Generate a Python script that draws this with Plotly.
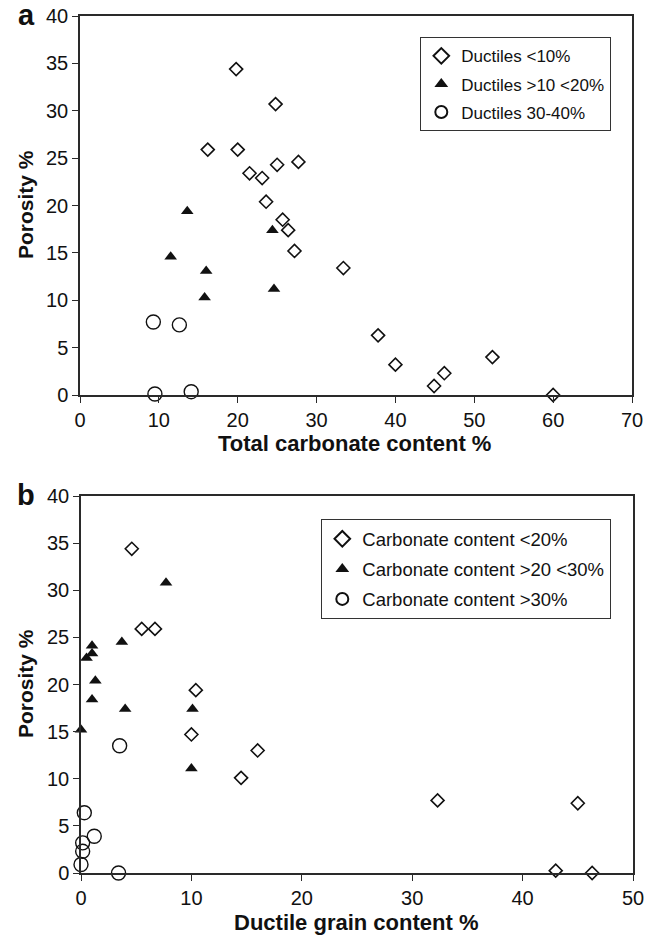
import plotly.graph_objects as go

# Panel a: porosity vs total carbonate content, grouped by ductile grain content
a_duct_lt10_x = [19.8, 24.8, 16.2, 20.0, 21.5, 23.1, 25.0, 27.7, 23.6, 25.7, 26.4,
                 27.2, 33.4, 37.8, 40.0, 44.9, 46.2, 52.3, 60.0]
a_duct_lt10_y = [34.4, 30.7, 25.9, 25.9, 23.4, 22.9, 24.3, 24.6, 20.4, 18.5, 17.4,
                 15.2, 13.4, 6.3, 3.2, 0.95, 2.3, 4.0, 0.0]
a_duct_10_20_x = [13.6, 11.5, 16.0, 15.8, 24.4, 24.6]
a_duct_10_20_y = [19.4, 14.6, 13.1, 10.3, 17.4, 11.2]
a_duct_30_40_x = [9.3, 12.6, 9.5, 14.1]
a_duct_30_40_y = [7.7, 7.4, 0.1, 0.35]

# Panel b: porosity vs ductile grain content, grouped by carbonate content
b_carb_lt20_x = [4.6, 5.5, 6.7, 10.4, 10.0, 16.0, 14.5, 32.3, 45.0, 43.0, 46.3]
b_carb_lt20_y = [34.4, 25.9, 25.9, 19.4, 14.7, 13.0, 10.1, 7.7, 7.4, 0.25, 0.0]
b_carb_20_30_x = [7.7, 1.0, 0.5, 1.0, 3.7, 1.3, 1.0, 4.0, 10.1, 0.0, 10.0]
b_carb_20_30_y = [30.8, 24.1, 22.8, 23.3, 24.5, 20.4, 18.4, 17.4, 17.4, 15.2, 11.1]
b_carb_gt30_x = [3.5, 0.3, 1.2, 0.15, 0.15, 0.0, 3.4]
b_carb_gt30_y = [13.5, 6.4, 3.9, 3.2, 2.3, 0.9, 0.0]

a_names = ["Ductiles <10%", "Ductiles >10 <20%", "Ductiles 30-40%"]
b_names = ["Carbonate content <20%", "Carbonate content >20 <30%", "Carbonate content >30%"]

a_xticks = [0, 10, 20, 30, 40, 50, 60, 70]
b_xticks = [0, 10, 20, 30, 40, 50]
y_ticks = [0, 5, 10, 15, 20, 25, 30, 35, 40]

FONT = "Liberation Sans, Arial, sans-serif"
INK = "#111111"
AXIS = "#2a2a2a"
W, H = 656, 939

diamond = dict(symbol="diamond-open", size=10, color=INK, line=dict(width=1.6, color=INK))
triangle = dict(symbol="triangle-up", size=11, color=INK, line=dict(width=0))
circle = dict(symbol="circle-open", size=14, color=INK, line=dict(width=1.4, color=INK))

fig = go.Figure()

def add(x, y, name, marker, xa, ya, legend, group):
    fig.add_trace(go.Scatter(x=x, y=y, mode="markers", name=name, marker=marker,
                             xaxis=xa, yaxis=ya, legend=legend, legendgroup=group,
                             cliponaxis=False))

add(a_duct_lt10_x, a_duct_lt10_y, a_names[0], diamond, "x", "y", "legend", "a1")
add(a_duct_10_20_x, a_duct_10_20_y, a_names[1], triangle, "x", "y", "legend", "a2")
add(a_duct_30_40_x, a_duct_30_40_y, a_names[2], circle, "x", "y", "legend", "a3")
add(b_carb_lt20_x, b_carb_lt20_y, b_names[0], diamond, "x2", "y2", "legend2", "b1")
add(b_carb_20_30_x, b_carb_20_30_y, b_names[1], triangle, "x2", "y2", "legend2", "b2")
add(b_carb_gt30_x, b_carb_gt30_y, b_names[2], circle, "x2", "y2", "legend2", "b3")

def px_x(p):
    return p / W

def px_y(p):
    return 1 - p / H

axis_common = dict(showline=True, mirror=True, linecolor=AXIS, linewidth=1.5,
                   ticks="outside", ticklen=6, tickwidth=1.3, tickcolor=AXIS,
                   showgrid=False, zeroline=False, automargin=False,
                   tickfont=dict(family=FONT, size=20, color=INK))

legend_common = dict(bgcolor="white", bordercolor="#333333", borderwidth=1.3,
                     xanchor="left", yanchor="top", itemsizing="constant")

fig.update_layout(
    width=W, height=H, margin=dict(l=0, r=0, t=0, b=0),
    plot_bgcolor="white", paper_bgcolor="white",
    xaxis=dict(axis_common, range=[0, 70], tickvals=a_xticks,
               domain=[px_x(80), px_x(632)], anchor="y"),
    yaxis=dict(axis_common, range=[0, 40], tickvals=y_ticks,
               domain=[px_y(395), px_y(16)], anchor="x"),
    xaxis2=dict(axis_common, range=[0, 50], tickvals=b_xticks,
                domain=[px_x(81), px_x(633)], anchor="y2"),
    yaxis2=dict(axis_common, range=[0, 40], tickvals=y_ticks,
                domain=[px_y(873), px_y(496)], anchor="x2"),
    legend=dict(legend_common, x=px_x(420), y=px_y(37), tracegroupgap=3,
                font=dict(family=FONT, size=17, color=INK)),
    legend2=dict(legend_common, x=px_x(321), y=px_y(519), tracegroupgap=3,
                 font=dict(family=FONT, size=18.5, color=INK)),
    showlegend=True,
)

title_font = dict(family=FONT, size=22, color=INK)
letter_font = dict(family=FONT, size=29, color=INK)
annotations = [
    dict(text="<b>Total carbonate content %</b>", x=px_x(354), y=px_y(443),
         xanchor="center", yanchor="middle", font=title_font),
    dict(text="<b>Ductile grain content %</b>", x=px_x(356), y=px_y(922),
         xanchor="center", yanchor="middle", font=title_font),
    dict(text="<b>Porosity %</b>", x=px_x(25), y=px_y(205), textangle=-90,
         xanchor="center", yanchor="middle", font=dict(title_font, size=21)),
    dict(text="<b>Porosity %</b>", x=px_x(25), y=px_y(684), textangle=-90,
         xanchor="center", yanchor="middle", font=dict(title_font, size=21)),
    dict(text="<b>a</b>", x=px_x(16), y=px_y(-3), xanchor="left", yanchor="top",
         font=letter_font),
    dict(text="<b>b</b>", x=px_x(15), y=px_y(477), xanchor="left", yanchor="top",
         font=letter_font),
]
for a in annotations:
    a.update(xref="paper", yref="paper", showarrow=False)
fig.update_layout(annotations=annotations)

fig.write_html("out.html")
